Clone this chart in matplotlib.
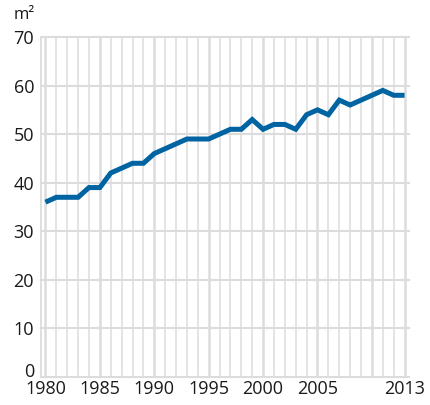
import numpy as np
import matplotlib
matplotlib.use("Agg")
import matplotlib.pyplot as plt
from matplotlib.transforms import ScaledTranslation

plt.rcParams["font.family"] = ["Open Sans", "DejaVu Sans"]

years = list(range(1980, 2014))
area = [36, 37, 37, 37, 39, 39, 42, 43, 44, 44,
        46, 47, 48, 49, 49, 49, 50, 51, 51, 53,
        51, 52, 52, 51, 54, 55, 54, 57, 56, 57,
        58, 59, 58, 58]
xtick_years = [1980, 1985, 1990, 1995, 2000, 2005, 2013]
yticks = [0, 10, 20, 30, 40, 50, 60, 70]

grid_col = "#dcdcdc"
text_col = "#1a1a1a"
line_col = "#0063a2"

fig = plt.figure(figsize=(4.30, 4.05), dpi=100)
ax = fig.add_axes([41 / 430, 1 - 377 / 405, (409 - 41) / 430, (377 - 37) / 405])

ax.set_xlim(1979.59, 2013.41)
ax.set_ylim(0, 70)

# grid: every year vertical, thicker every 5 years
for y in years:
    lw = 1.8 if (y % 5 == 0 or y == 2013) else 1.1
    ax.axvline(y, color=grid_col, lw=lw, zorder=1)
for v in yticks:
    ax.axhline(v, color=grid_col, lw=1.5, zorder=1, clip_on=False)
ax.axvline(1979.59, color=grid_col, lw=1.3, zorder=1, clip_on=False)

ax.plot(years, area, color=line_col, lw=3.6, solid_capstyle="butt",
        solid_joinstyle="miter", zorder=3)

for s in ax.spines.values():
    s.set_visible(False)
ax.tick_params(length=0, colors=text_col, labelsize=13)
ax.set_xticks(xtick_years)
ax.set_xticklabels([str(y) for y in xtick_years])
ax.set_yticks(yticks)
ax.tick_params(axis="y", pad=5)
ax.tick_params(axis="x", pad=2)

# lift the "0" a bit so it sits clear of the 1980 label
zero_lab = ax.get_yticklabels()[0]
zero_lab.set_transform(zero_lab.get_transform() +
                       ScaledTranslation(0, 7 / 100, fig.dpi_scale_trans))

fig.text(14 / 430, 1 - 15 / 405, "m²", fontsize=12, color=text_col,
         va="center", ha="left")

fig.savefig("out.png", dpi=100)
